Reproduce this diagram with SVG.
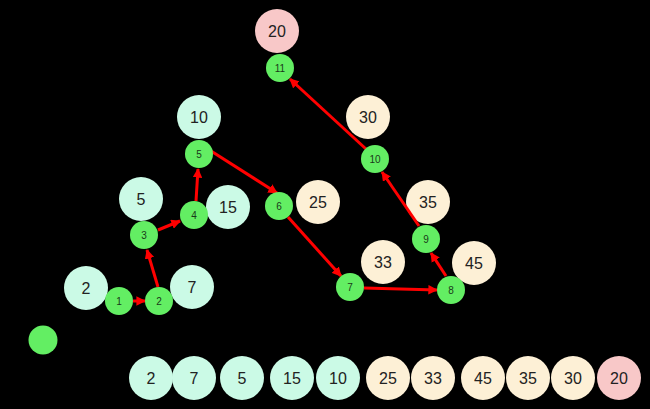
<svg xmlns="http://www.w3.org/2000/svg" width="650" height="409" viewBox="0 0 650 409">
<defs>
<style>
.bg{fill:#000}
.n circle{fill:#63ee63}
.n text{font-family:"Liberation Sans",Arial,sans-serif;font-size:10px;fill:#1a3a1a;text-anchor:middle;dominant-baseline:central}
.v text{font-family:"Liberation Sans",Arial,sans-serif;font-size:16px;fill:#222;text-anchor:middle;dominant-baseline:central}
.mint{fill:#cbfae6}
.cream{fill:#fdf0d6}
.pink{fill:#f8c8c8}
.e{stroke:#f00;stroke-width:3;fill:none;marker-end:url(#ah)}
</style>
<marker id="ah" viewBox="0 0 10 10" refX="9" refY="5" markerWidth="3.2" markerHeight="3.2" orient="auto" markerUnits="strokeWidth">
<path d="M0,0 L10,5 L0,10 z" fill="#f00"/>
</marker>
</defs>
<rect class="bg" x="0" y="0" width="650" height="409"/>
<g id="values">
<g id="v20top" class="v"><circle class="pink" cx="277" cy="31" r="22"/><text x="277" y="31">20</text></g>
<g id="v10top" class="v"><circle class="mint" cx="199" cy="117" r="22"/><text x="199" y="117">10</text></g>
<g id="v30top" class="v"><circle class="cream" cx="368" cy="117" r="22"/><text x="368" y="117">30</text></g>
<g id="v5top" class="v"><circle class="mint" cx="141" cy="199" r="22"/><text x="141" y="199">5</text></g>
<g id="v15top" class="v"><circle class="mint" cx="228" cy="207" r="22"/><text x="228" y="207">15</text></g>
<g id="v25top" class="v"><circle class="cream" cx="318" cy="202" r="22"/><text x="318" y="202">25</text></g>
<g id="v35top" class="v"><circle class="cream" cx="428" cy="202" r="22"/><text x="428" y="202">35</text></g>
<g id="v33top" class="v"><circle class="cream" cx="383" cy="262" r="22"/><text x="383" y="262">33</text></g>
<g id="v45top" class="v"><circle class="cream" cx="474" cy="263" r="22"/><text x="474" y="263">45</text></g>
<g id="v2top" class="v"><circle class="mint" cx="86" cy="288" r="22"/><text x="86" y="288">2</text></g>
<g id="v7top" class="v"><circle class="mint" cx="192" cy="287" r="22"/><text x="192" y="287">7</text></g>
</g>
<g id="connectors">
<line class="e" x1="133" y1="301" x2="145" y2="301"/>
<line class="e" x1="158" y1="287" x2="147" y2="250"/>
<line class="e" x1="158" y1="230" x2="180" y2="221"/>
<line class="e" x1="196" y1="201" x2="198" y2="169"/>
<line class="e" x1="211" y1="151" x2="277" y2="193"/>
<line class="e" x1="288" y1="217" x2="341" y2="276"/>
<line class="e" x1="364" y1="288" x2="437" y2="290"/>
<line class="e" x1="446" y1="276" x2="431" y2="253"/>
<line class="e" x1="419" y1="226" x2="382" y2="172"/>
<line class="e" x1="366" y1="149" x2="290" y2="79"/>
</g>
<g id="nodes">
<g id="n1" class="n"><circle cx="119" cy="301" r="14"/><text x="119" y="301">1</text></g>
<g id="n2" class="n"><circle cx="159" cy="301" r="14"/><text x="159" y="301">2</text></g>
<g id="n3" class="n"><circle cx="144" cy="235" r="14"/><text x="144" y="235">3</text></g>
<g id="n4" class="n"><circle cx="194" cy="215" r="14"/><text x="194" y="215">4</text></g>
<g id="n5" class="n"><circle cx="199" cy="154" r="14"/><text x="199" y="154">5</text></g>
<g id="n6" class="n"><circle cx="279" cy="206" r="14"/><text x="279" y="206">6</text></g>
<g id="n7" class="n"><circle cx="350" cy="287" r="14"/><text x="350" y="287">7</text></g>
<g id="n8" class="n"><circle cx="451" cy="290" r="14"/><text x="451" y="290">8</text></g>
<g id="n9" class="n"><circle cx="426" cy="239" r="14"/><text x="426" y="239">9</text></g>
<g id="n10" class="n"><circle cx="375" cy="159" r="14"/><text x="375" y="159">10</text></g>
<g id="n11" class="n"><circle cx="280" cy="68" r="14"/><text x="280" y="68">11</text></g>
<g id="legend" class="n"><circle cx="43" cy="340" r="14.5"/></g>
</g>
<g id="row">
<g id="r2" class="v"><circle class="mint" cx="151" cy="378" r="22"/><text x="151" y="378">2</text></g>
<g id="r7" class="v"><circle class="mint" cx="194" cy="378" r="22"/><text x="194" y="378">7</text></g>
<g id="r5" class="v"><circle class="mint" cx="242" cy="378" r="22"/><text x="242" y="378">5</text></g>
<g id="r15" class="v"><circle class="mint" cx="292" cy="378" r="22"/><text x="292" y="378">15</text></g>
<g id="r10" class="v"><circle class="mint" cx="338" cy="378" r="22"/><text x="338" y="378">10</text></g>
<g id="r25" class="v"><circle class="cream" cx="388" cy="378" r="22"/><text x="388" y="378">25</text></g>
<g id="r33" class="v"><circle class="cream" cx="433" cy="378" r="22"/><text x="433" y="378">33</text></g>
<g id="r45" class="v"><circle class="cream" cx="483" cy="378" r="22"/><text x="483" y="378">45</text></g>
<g id="r35" class="v"><circle class="cream" cx="528" cy="378" r="22"/><text x="528" y="378">35</text></g>
<g id="r30" class="v"><circle class="cream" cx="573" cy="378" r="22"/><text x="573" y="378">30</text></g>
<g id="r20" class="v"><circle class="pink" cx="619" cy="378" r="22"/><text x="619" y="378">20</text></g>
</g>
</svg>
